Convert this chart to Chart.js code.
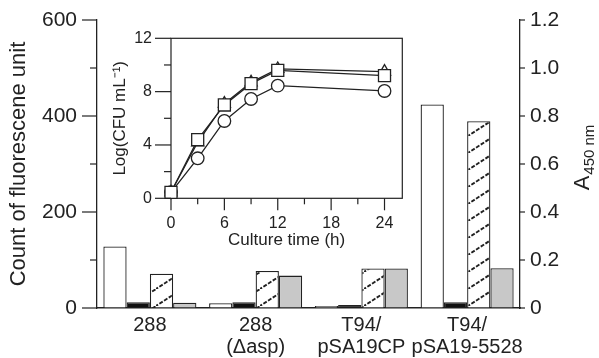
<!DOCTYPE html>
<html>
<head>
<meta charset="utf-8">
<script src="https://cdn.jsdelivr.net/npm/chart.js@4.4.1/dist/chart.umd.min.js"></script>
<style>
  html, body { margin: 0; padding: 0; background: #fff; }
  #wrap { position: relative; width: 599px; height: 358px; }
  #mainChart { position: absolute; left: 0; top: 0; }
  #insetChart { position: absolute; left: 95px; top: 28px; }
</style>
</head>
<body>
<div id="wrap">
  <canvas id="mainChart" width="599" height="358"></canvas>
  <canvas id="insetChart" width="315" height="232"></canvas>
</div>
<script>
// main bar chart
const strains = ["288", ["288", "(Δasp)"], ["T94/", "pSA19CP"], ["T94/", "pSA19-5528"]];
const fluorWhite = [128, 10, 4, 424];
const fluorBlack = [12, 12, 6, 12];
const a450Hatched = [0.143, 0.154, 0.165, 0.778];
const a450Gray = [0.022, 0.135, 0.165, 0.166];

// inset growth curves
const cultureTime = [0, 3, 6, 9, 12, 24];
const logSquare = [0.45, 4.4, 7.0, 8.6, 9.6, 9.2];
const logTriangle = [0.45, 4.2, 7.1, 8.7, 9.7, 9.5];
const logCircle = [0.45, 3.0, 5.8, 7.45, 8.45, 8.05];

const FONT = "'Liberation Sans', Arial, Helvetica, sans-serif";
const INK = "#222";

function makeHatch() {
    const c = document.createElement("canvas");
    c.width = 26;
    c.height = 17;
    const g = c.getContext("2d");
    g.fillStyle = "#fff";
    g.fillRect(0, 0, 26, 17);
    g.strokeStyle = "#222";
    g.lineWidth = 1.9;
    g.setLineDash([4, 1.6]);
    g.beginPath();
    g.moveTo(-6, 17 + 6 * 17 / 26);
    g.lineTo(32, -6 * 17 / 26);
    g.stroke();
    return g.createPattern(c, "repeat");
}

// tick padding would otherwise push the plot area down
function fixPadding(scale) {
    if (scale.isHorizontal()) {
        scale.paddingLeft = 0;
        scale.paddingRight = 0;
    } else {
        scale.paddingTop = 8;
        scale.paddingBottom = 8;
    }
}

// draws tick marks by hand so major and minor ones can differ in length
function tickPlugin(spec) {
    return {
        id: "tickMarks",
        afterDraw(chart) {
            const ctx = chart.ctx;
            ctx.save();
            ctx.strokeStyle = INK;
            ctx.lineWidth = 1.2;
            Object.keys(spec).forEach(id => {
                const scale = chart.scales[id];
                const s = spec[id];
                scale.ticks.forEach(t => {
                    const len = s.isMajor(t.value) ? s.major : s.minor;
                    const p = scale.getPixelForValue(t.value);
                    ctx.beginPath();
                    if (scale.isHorizontal()) {
                        ctx.moveTo(p, scale.top);
                        ctx.lineTo(p, scale.top + len);
                    } else if (scale.position === "left") {
                        ctx.moveTo(scale.right, p);
                        ctx.lineTo(scale.right - len, p);
                    } else {
                        ctx.moveTo(scale.left, p);
                        ctx.lineTo(scale.left + len, p);
                    }
                    ctx.stroke();
                });
            });
            ctx.restore();
        }
    };
}

const rightTitle = {
    id: "rightTitle",
    afterDraw(chart) {
        const s = chart.scales.y2;
        const ctx = chart.ctx;
        const cy = (s.top + s.bottom) / 2 - 6;
        ctx.save();
        ctx.translate(s.right - 10, cy);
        ctx.rotate(-Math.PI / 2);
        ctx.fillStyle = INK;
        ctx.textBaseline = "alphabetic";
        ctx.font = "22px " + FONT;
        const wA = ctx.measureText("A").width;
        ctx.font = "15px " + FONT;
        const wSub = ctx.measureText("450 nm").width;
        const x0 = -(wA + wSub) / 2;
        ctx.font = "22px " + FONT;
        ctx.fillText("A", x0, 0);
        ctx.font = "15px " + FONT;
        ctx.fillText("450 nm", x0 + wA + 1, 5);
        ctx.restore();
    }
};

new Chart(document.getElementById("mainChart"), {
    type: "bar",
    data: {
        labels: strains,
        datasets: [
            { data: fluorWhite, yAxisID: "y", backgroundColor: "#fff" },
            { data: fluorBlack, yAxisID: "y", backgroundColor: "#111" },
            { data: a450Hatched, yAxisID: "y2", backgroundColor: makeHatch() },
            { data: a450Gray, yAxisID: "y2", backgroundColor: "#c8c8c8" }
        ]
    },
    options: {
        responsive: false,
        animation: false,
        datasets: {
            bar: {
                borderColor: INK,
                borderWidth: 1.3,
                barPercentage: 1,
                categoryPercentage: 0.88
            }
        },
        layout: { padding: { top: 20, left: 0, right: 0, bottom: 0 }, autoPadding: false },
        plugins: { legend: { display: false }, tooltip: { enabled: false } },
        scales: {
            x: {
                grid: { display: false, drawTicks: false },
                border: { display: true, color: INK, width: 1.5 },
                ticks: {
                    color: INK,
                    padding: 6,
                    maxRotation: 0,
                    autoSkip: false,
                    font: { family: FONT, size: 20, lineHeight: 1.1 }
                },
                afterFit(scale) { scale.height = 50; fixPadding(scale); }
            },
            y: {
                position: "left",
                min: 0,
                max: 600,
                grid: { drawOnChartArea: false, drawTicks: false },
                border: { display: true, color: INK, width: 1.3 },
                ticks: {
                    stepSize: 100,
                    padding: 20,
                    color: INK,
                    font: { family: FONT, size: 21 },
                    callback: v => (v % 200 === 0 ? v : "")
                },
                title: {
                    display: true,
                    text: "Count of fluorescene unit",
                    color: INK,
                    padding: { top: 6, bottom: 0 },
                    font: { family: FONT, size: 22 }
                },
                afterFit(scale) { scale.width = 97; fixPadding(scale); }
            },
            y2: {
                position: "right",
                min: 0,
                max: 1.2,
                grid: { drawOnChartArea: false, drawTicks: false },
                border: { display: true, color: INK, width: 1.3 },
                ticks: {
                    stepSize: 0.2,
                    padding: 10,
                    color: INK,
                    font: { family: FONT, size: 21 },
                    callback: v => (Math.abs(v) < 1e-9 ? "0" : v.toFixed(1))
                },
                afterFit(scale) { scale.width = 79; fixPadding(scale); }
            }
        }
    },
    plugins: [
        tickPlugin({
            y: { isMajor: v => v % 200 === 0, major: 15, minor: 7 },
            y2: { isMajor: () => true, major: 5, minor: 5 }
        }),
        rightTitle
    ]
});

const insetBox = {
    id: "insetBox",
    beforeDatasetsDraw(chart) {
        const a = chart.chartArea;
        const ctx = chart.ctx;
        ctx.save();
        ctx.strokeStyle = INK;
        ctx.lineWidth = 1.2;
        ctx.strokeRect(a.left, a.top, a.right - a.left, a.bottom - a.top);
        ctx.restore();
    }
};

function curve(ys) {
    return cultureTime.map((t, i) => ({ x: t, y: ys[i] }));
}

const seriesStyle = {
    borderColor: INK,
    borderWidth: 1.3,
    backgroundColor: "#fff",
    pointBackgroundColor: "#fff",
    pointBorderColor: INK,
    pointBorderWidth: 1.3,
    tension: 0,
    clip: false
};

new Chart(document.getElementById("insetChart"), {
    type: "line",
    data: {
        datasets: [
            { ...seriesStyle, data: curve(logSquare), pointStyle: "rect", pointRadius: 8.5, order: 0 },
            { ...seriesStyle, data: curve(logTriangle), pointStyle: "triangle", pointRadius: 7, order: 1 },
            { ...seriesStyle, data: curve(logCircle), pointStyle: "circle", pointRadius: 6.3, order: 2 }
        ]
    },
    options: {
        responsive: false,
        animation: false,
        layout: { padding: { top: 10.3, right: 7.7, left: 0, bottom: 0 }, autoPadding: false },
        plugins: { legend: { display: false }, tooltip: { enabled: false } },
        scales: {
            x: {
                type: "linear",
                min: 0,
                max: 26,
                grid: { display: false, drawTicks: false },
                border: { display: false },
                ticks: {
                    stepSize: 3,
                    includeBounds: false,
                    padding: 16,
                    color: INK,
                    maxRotation: 0,
                    autoSkip: false,
                    font: { family: FONT, size: 16 },
                    callback: v => (v % 6 === 0 ? v : "")
                },
                title: {
                    display: true,
                    text: "Culture time (h)",
                    color: INK,
                    padding: { top: 0, bottom: 9 },
                    font: { family: FONT, size: 17 }
                },
                afterFit(scale) { scale.height = 61.7; fixPadding(scale); }
            },
            y: {
                min: 0,
                max: 12,
                grid: { display: false, drawTicks: false },
                border: { display: false },
                ticks: {
                    stepSize: 2,
                    padding: 19,
                    color: INK,
                    font: { family: FONT, size: 16 },
                    callback: v => (v % 4 === 0 ? v : "")
                },
                title: {
                    display: true,
                    text: "Log(CFU mL⁻¹)",
                    color: INK,
                    padding: { top: 15, bottom: 0 },
                    font: { family: FONT, size: 17 }
                },
                afterFit(scale) { scale.width = 76; fixPadding(scale); }
            }
        }
    },
    plugins: [
        insetBox,
        tickPlugin({
            x: { isMajor: v => v % 6 === 0, major: 12, minor: 6 },
            y: { isMajor: v => v % 4 === 0, major: 16, minor: 7 }
        })
    ]
});
</script>
</body>
</html>
